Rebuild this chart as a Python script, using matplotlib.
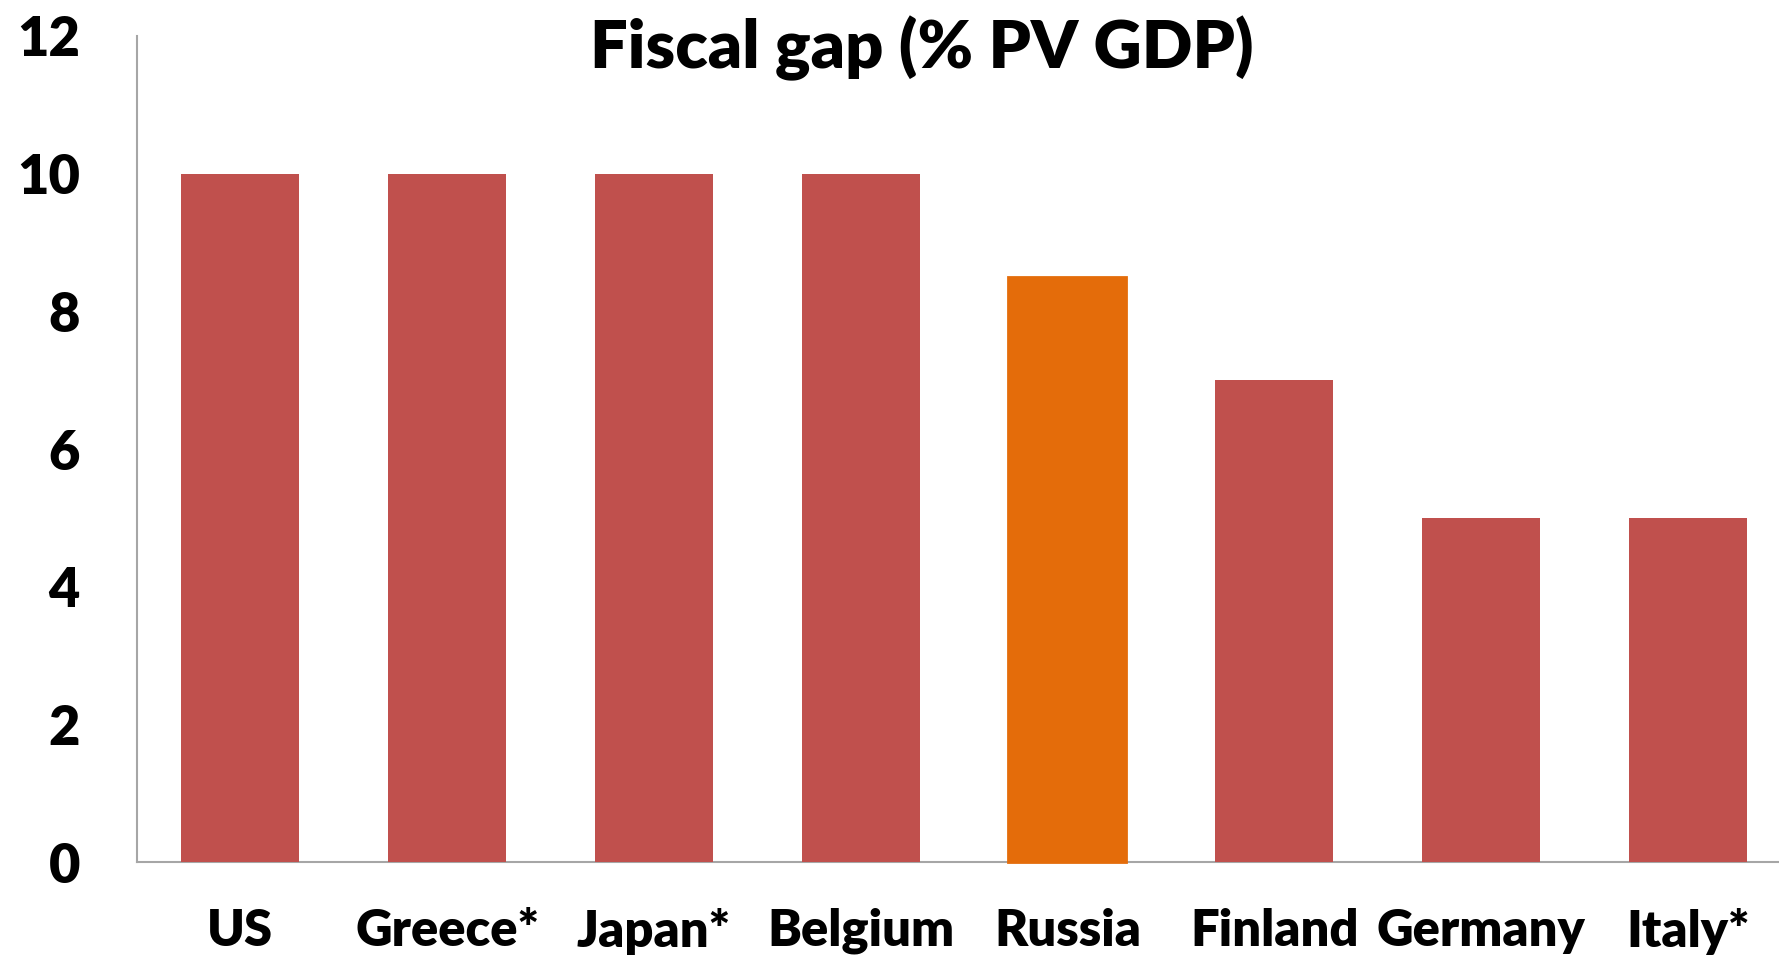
import matplotlib
matplotlib.use("Agg")
import matplotlib.pyplot as plt

countries = ["US", "Greece*", "Japan*", "Belgium", "Russia", "Finland", "Germany", "Italy*"]
fiscal_gap = [10, 10, 10, 10, 8.5, 7, 5, 5]
highlight = "Russia"
yticks = [0, 2, 4, 6, 8, 10, 12]

RED = "#C0504D"
ORANGE = "#E46C0A"
AXIS_GREY = "#A6A6A6"

plt.rcParams["font.family"] = ["Lato", "DejaVu Sans"]
plt.rcParams["font.weight"] = "bold"

fig = plt.figure(figsize=(17.79, 9.55), dpi=100)
ax = fig.add_axes([137 / 1779, 1 - 862 / 955, 1654 / 1779, 826 / 955])

x = range(len(countries))
colors = [ORANGE if c == highlight else RED for c in countries]
bars = ax.bar(x, fiscal_gap, width=0.57, color=colors, zorder=3)
for b, c in zip(bars, countries):
    if c == highlight:
        b.set_edgecolor(ORANGE)
        b.set_linewidth(2)
        b.set_clip_on(False)
        b.set_zorder(4)

ax.set_xlim(-0.5, len(countries) - 0.5)
ax.set_ylim(0, 12)
ax.set_yticks(yticks)
ax.set_yticklabels([str(t) for t in yticks], fontsize=39, fontweight="heavy")
ax.set_xticks(list(x))
ax.set_xticklabels(countries, fontsize=36.5, fontweight="heavy")
ax.tick_params(axis="y", length=0, pad=41)
ax.tick_params(axis="x", length=0, pad=33)

for side in ("top", "right"):
    ax.spines[side].set_visible(False)
for side in ("left", "bottom"):
    ax.spines[side].set_color(AXIS_GREY)
    ax.spines[side].set_linewidth(1.5)
    ax.spines[side].set_zorder(2)

fig.text(922 / 1779, 1 - 48 / 955, "Fiscal gap (% PV GDP)", ha="center", va="center",
         fontsize=48, fontweight="heavy")

fig.savefig("out.png", dpi=100, facecolor="white")
